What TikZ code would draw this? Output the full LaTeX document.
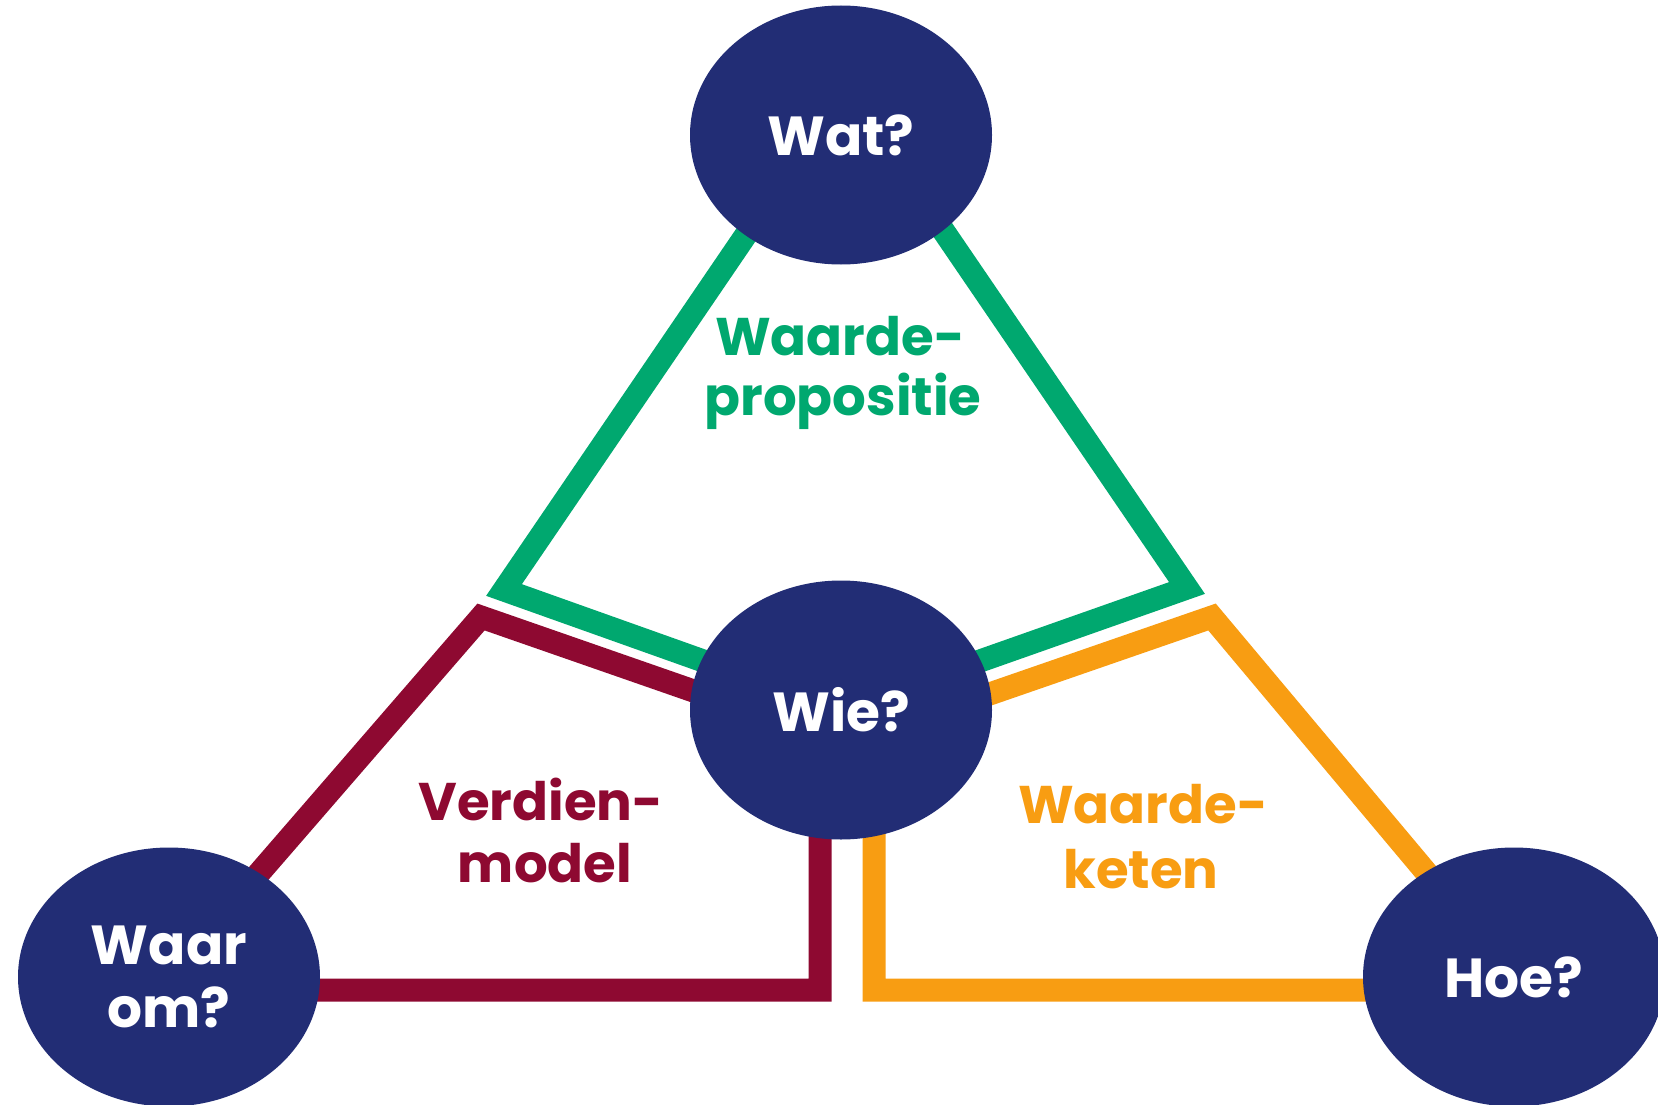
\documentclass[tikz,border=0pt]{standalone}
\usepackage{fontspec}
\setmainfont{Poppins}
\usetikzlibrary{shapes.geometric,backgrounds}
\definecolor{navy}{RGB}{34,45,117}
\definecolor{groen}{RGB}{0,168,111}
\definecolor{rood}{RGB}{142,9,49}
\definecolor{oranje}{RGB}{248,157,18}
\begin{document}
\begin{tikzpicture}[x=1pt,y=-1pt,
    blob/.style={ellipse,fill=navy,text=white,minimum width=302pt,
      minimum height=259pt,inner sep=0pt,align=center,
      font=\bfseries\fontsize{55}{63}\selectfont},
    lbl/.style={anchor=base,font=\bfseries\fontsize{53}{61}\selectfont},
    band/.style={line width=23pt,line join=miter}]
  \useasboundingbox (0,0) rectangle (1658,1105);

  % de vier vragen
  \node[blob] (wat) at (841,135) {Wat?};
  \node[blob] (wie) at (841,710) {Wie?};
  \node[blob] (waarom) at (169,977) {Waar\\om?};
  \node[blob] (hoe) at (1514,977) {Hoe?};

  % hoekpunten van de banden
  \coordinate (gtop) at (846,88);
  \coordinate (gl) at (504,590);
  \coordinate (gr) at (1187,588);
  \coordinate (rl) at (481,617);
  \coordinate (rw) at (820,735);
  \coordinate (rb) at (820,990);
  \coordinate (rwa) at (169,990);
  \coordinate (okh) at (1212,617);
  \coordinate (ow) at (874,734);
  \coordinate (ob) at (874,990);
  \coordinate (oh) at (1514,990);

  \begin{pgfonlayer}{background}
    \draw[band,groen] (gtop) -- (gl) -- (wie.center) -- (gr) -- cycle;
    \draw[band,rood] (waarom.center) -- (rl) -- (rw) -- (rb) -- (rwa) -- cycle;
    \draw[band,oranje] (hoe.center) -- (okh) -- (ow) -- (ob) -- (oh) -- cycle;
  \end{pgfonlayer}

  % labels
  \node[lbl,groen] (wp1) at (840,355) {Waarde-};
  \node[lbl,groen] (wp2) at (843,415) {propositie};
  \node[lbl,rood] (vm1) at (541,820) {Verdien-};
  \node[lbl,rood] (vm2) at (545,882) {model};
  \node[lbl,oranje] (wk1) at (1143,823) {Waarde-};
  \node[lbl,oranje] (wk2) at (1141,888) {keten};
\end{tikzpicture}
\end{document}
